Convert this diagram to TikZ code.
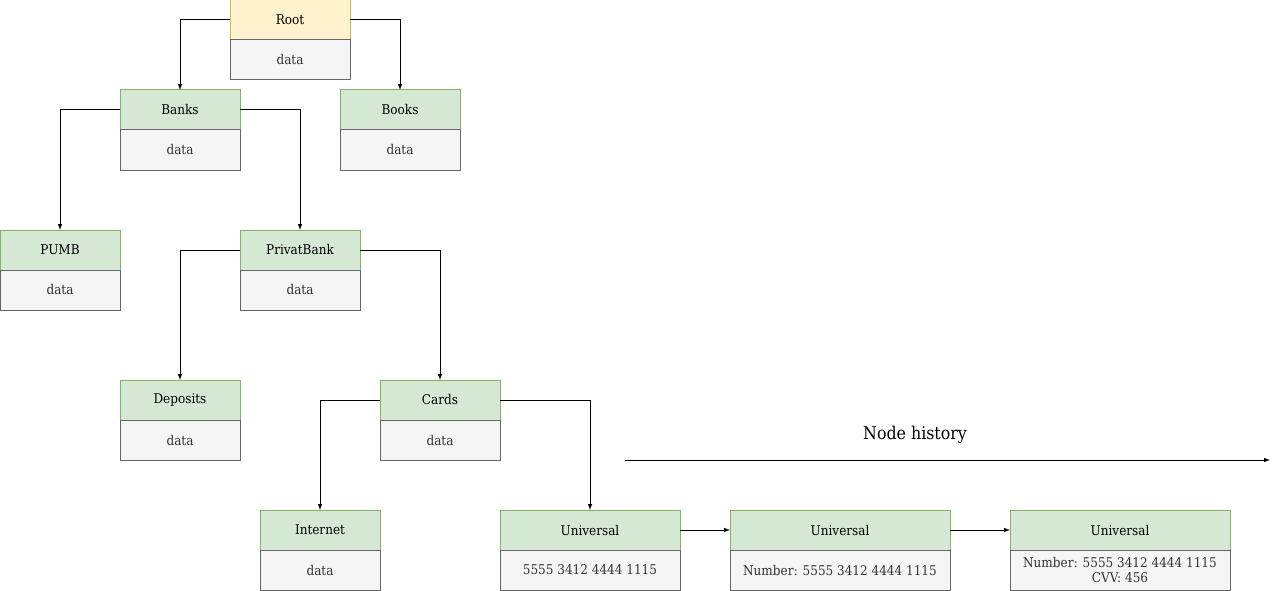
\documentclass[tikz,border=0pt]{standalone}
\usepackage{fontspec}
\setmainfont{DejaVu Serif Condensed}
\usetikzlibrary{positioning}

\definecolor{headfill}{HTML}{D5E8D4}
\definecolor{headline}{HTML}{82B366}
\definecolor{rootfill}{HTML}{FFF2CC}
\definecolor{rootline}{HTML}{D6B656}
\definecolor{datafill}{HTML}{F5F5F5}
\definecolor{dataline}{HTML}{666666}
\definecolor{datatext}{HTML}{333333}

\tikzset{
  head/.style={draw=headline, fill=headfill, minimum width=120pt, minimum height=40pt,
    inner sep=0pt, outer sep=0pt, font=\fontsize{13.4}{14.5}\selectfont},
  roothead/.style={head, draw=rootline, fill=rootfill},
  data/.style={draw=dataline, fill=datafill, text=datatext, minimum width=120pt,
    minimum height=40pt, inner sep=0pt, outer sep=0pt, align=center,
    font=\fontsize{13.4}{14.5}\selectfont},
  wide/.style={minimum width=180pt},
  wider/.style={minimum width=220pt},
  link/.style={-latex, line width=1pt}
}

\begin{document}
\begin{tikzpicture}[x=1pt, y=-1pt, line width=1pt]
\useasboundingbox (0,0) rectangle (1279,591);

% tree
\node[roothead] (root) at (290,20) {Root};
\node[data, below=0pt of root] (rootd) {data};
\node[head] (banks) at (180,110) {Banks};
\node[data, below=0pt of banks] (banksd) {data};
\node[head] (books) at (400,110) {Books};
\node[data, below=0pt of books] (booksd) {data};
\node[head] (pumb) at (60,250) {PUMB};
\node[data, below=0pt of pumb] (pumbd) {data};
\node[head] (privat) at (300,250) {PrivatBank};
\node[data, below=0pt of privat] (privatd) {data};
\node[head] (deposits) at (180,400) {Deposits};
\node[data, below=0pt of deposits] (depositsd) {data};
\node[head] (cards) at (440,400) {Cards};
\node[data, below=0pt of cards] (cardsd) {data};
\node[head] (internet) at (320,530) {Internet};
\node[data, below=0pt of internet] (internetd) {data};

% history of the card node
\node[head, wide] (univa) at (590,530) {Universal};
\node[data, wide, below=0pt of univa] (univad) {5555 3412 4444 1115};
\node[head, wider] (univb) at (840,530) {Universal};
\node[data, wider, below=0pt of univb] (univbd) {Number: 5555 3412 4444 1115};
\node[head, wider] (univc) at (1120,530) {Universal};
\node[data, wider, below=0pt of univc] (univcd) {Number: 5555 3412 4444 1115\\CVV: 456};

\draw[link] (root.west) -| (banks.north);
\draw[link] (root.east) -| (books.north);
\draw[link] (banks.west) -| (pumb.north);
\draw[link] (banks.east) -| (privat.north);
\draw[link] (privat.west) -| (deposits.north);
\draw[link] (privat.east) -| (cards.north);
\draw[link] (cards.west) -| (internet.north);
\draw[link] (cards.east) -| (univa.north);
\draw[link] (univa) -- (univb);
\draw[link] (univb) -- (univc);

% timeline
\coordinate (hstart) at (625,460);
\coordinate (hend) at (1270,460);
\draw[link] (hstart) -- (hend);
\node[font=\fontsize{17.6}{20}\selectfont] (hist) at (915,435) {Node history};
\end{tikzpicture}
\end{document}
